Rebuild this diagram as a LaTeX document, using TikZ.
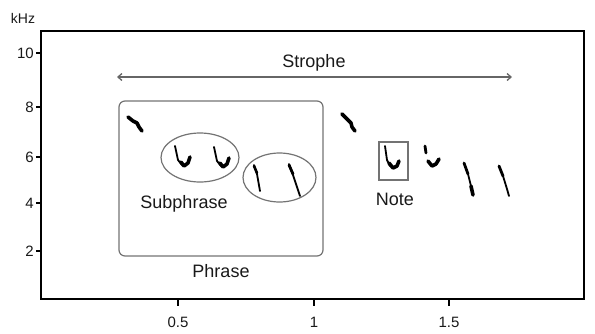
\documentclass[tikz,border=0pt]{standalone}
\usepackage{fontspec}
\setmainfont{Liberation Sans}
\usetikzlibrary{arrows.meta,shapes.geometric}
\begin{document}
\begin{tikzpicture}[x=1pt,y=-1pt,
  frame/.style={line width=2.8pt,black},
  grayline/.style={draw=black!55,line width=1.2pt},
  lbl/.style={font=\fontsize{18}{20}\selectfont,text=black!90,inner sep=0pt},
  ticklbl/.style={font=\fontsize{15}{17}\selectfont,text=black!90,inner sep=0pt},
  tickmark/.style={line width=1.8pt,black},
  syl/.style={line width=3.6pt,black,line cap=round,line join=round},
  sylthin/.style={line width=1.8pt,black,line cap=round,line join=round}]
\useasboundingbox (0,0) rectangle (595,333);
% frame
\draw[frame] (41,31) rectangle (584,299);
% y ticks
\foreach \v/\y in {10/53,8/107,6/157,4/203,2/251}{
  \draw[tickmark] (36,\y) -- (41,\y);
  \node[ticklbl,anchor=east] (y\v) at (34,\y) {\v};
}
\node[ticklbl,font=\fontsize{14}{16}\selectfont] (khz) at (23,18) {kHz};
% x ticks
\foreach \v/\x/\n in {0.5/178/a,1/314/b,1.5/449/c}{
  \draw[tickmark] (\x,299) -- (\x,306);
  \node[ticklbl] (x\n) at (\x,322) {\v};
}
% strophe
\coordinate (sl) at (117,77);
\coordinate (sr) at (512,77);
\draw[draw=black!60,line width=1.3pt,{Straight Barb[length=4pt,width=7pt]}-{Straight Barb[length=4pt,width=7pt]}] (sl) -- (sr);
\node[lbl] (strophe) at (314,63) {Strophe};
% phrase box
\node[grayline,rounded corners=6pt,minimum width=204pt,minimum height=155pt,inner sep=0pt] (phrase) at (221,178.5) {};
\node[lbl] (phraselbl) at (221,271) {Phrase};
% subphrase ellipses
\node[grayline,ellipse,minimum width=78pt,minimum height=49pt,inner sep=0pt] (sp1) at (200,157.5) {};
\node[grayline,ellipse,minimum width=73pt,minimum height=49pt,inner sep=0pt] (sp2) at (279.5,177.5) {};
\node[lbl] (subphrase) at (184,204) {Subphrase};
% note box
\node[grayline,minimum width=29pt,minimum height=38pt,inner sep=0pt] (note) at (393.5,161) {};
\node[lbl] (notelbl) at (395,199) {Note};
% syllables
\draw[syl] (128,117) -- (133,121) -- (137,123) -- (139,127) -- (142,131);
\draw[sylthin] (175,146) -- (178,160) -- (182,165);
\draw[syl] (181,162) -- (184,166) -- (188,163) -- (190,157);
\draw[sylthin] (214,147) -- (217,161) -- (221,166);
\draw[syl] (220,163) -- (223,167) -- (227,164) -- (229,158);
\draw[sylthin] (254,165) -- (257,174) -- (260,191);
\draw[syl,line width=2.6pt] (254,166) -- (257,173);
\draw[sylthin] (289,164) -- (293,175) -- (298,190) -- (300,196);
\draw[syl,line width=2.8pt] (289,165) -- (293,174);
\draw[syl] (342,114) -- (347,119) -- (351,123) -- (352,127) -- (355,131);
\draw[sylthin] (385,146) -- (387,160) -- (390,166);
\draw[syl] (389,163) -- (393,168) -- (397,166) -- (399,161);
\draw[syl,line width=2.8pt] (425,146) -- (426,153);
\draw[syl] (428,161) -- (432,166) -- (436,164) -- (439,159);
\draw[syl,line width=2.8pt] (464,163) -- (468,174);
\draw[sylthin] (468,174) -- (471,186);
\draw[syl] (471,186) -- (473,195);
\draw[syl,line width=2.8pt] (499,166) -- (503,176);
\draw[sylthin] (503,176) -- (507,189) -- (509,196);
\end{tikzpicture}
\end{document}
